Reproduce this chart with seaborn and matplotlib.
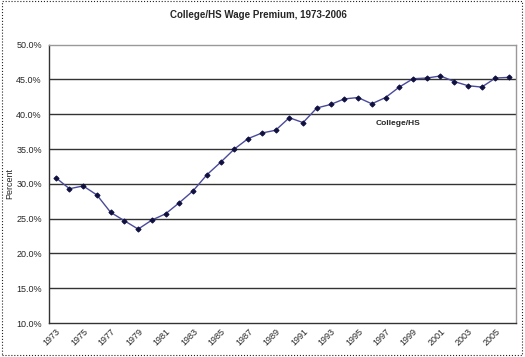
import numpy as np
import pandas as pd
import matplotlib
matplotlib.use('Agg')
import matplotlib.pyplot as plt
import seaborn as sns
from matplotlib.ticker import FixedLocator, FuncFormatter
from matplotlib.patches import Rectangle

years = list(range(1973, 2007))
premium = [30.9, 29.3, 29.7, 28.4, 25.9, 24.7, 23.5, 24.8, 25.7, 27.3,
           29.0, 31.3, 33.1, 35.0, 36.5, 37.3, 37.7, 39.5, 38.8, 40.9,
           41.4, 42.2, 42.4, 41.5, 42.4, 43.9, 45.1, 45.2, 45.5, 44.7,
           44.1, 43.9, 45.2, 45.3]
y_ticks = [10, 15, 20, 25, 30, 35, 40, 45, 50]
label_years = list(range(1973, 2006, 2))

df = pd.DataFrame({'year': years, 'premium': premium})

sns.set_style('white')
plt.rcParams['font.family'] = ['Liberation Sans', 'DejaVu Sans']

fig = plt.figure(figsize=(5.25, 3.57), dpi=100)
ax = fig.add_axes([0.093, 0.095, 0.890, 0.780])

sns.lineplot(data=df, x='year', y='premium', ax=ax, color='#4a4a9c', lw=1.0,
             marker='D', markersize=2.6, markerfacecolor='#101040',
             markeredgecolor='#101040')

ax.set_xlim(years[0] - 0.5, years[-1] + 0.5)
ax.set_ylim(10, 50)
ax.set_yticks(y_ticks)
ax.yaxis.set_major_formatter(FuncFormatter(lambda v, p: f'{v:.1f}%'))
for v in y_ticks[1:-1]:
    ax.axhline(v, color='#333333', lw=1.0, zorder=0)

ax.set_xticks(label_years)
ax.set_xticklabels([str(y) for y in label_years], rotation=45,
                   ha='right', va='top', rotation_mode='anchor', fontsize=6.5)
ax.tick_params(axis='x', length=0, pad=3)
ax.xaxis.set_minor_locator(FixedLocator(np.arange(years[0] - 0.5, years[-1] + 1, 1)))
ax.tick_params(axis='x', which='minor', length=3, width=0.8, color='#333333', direction='out')
ax.tick_params(axis='y', length=3, width=0.8, color='#333333', direction='out', labelsize=6.5, pad=2)

for side in ['left', 'bottom']:
    ax.spines[side].set_color('#333333')
    ax.spines[side].set_linewidth(1.0)
for side in ['top', 'right']:
    ax.spines[side].set_color('#999999')
    ax.spines[side].set_linewidth(1.0)

ax.set_xlabel('')
ax.set_ylabel('Percent', fontsize=6.5)
ax.yaxis.set_label_coords(-0.074, 0.5)
ax.text(1997.9, 38.6, 'College/HS', fontsize=6, fontweight='bold', ha='center', va='center')
fig.text(0.492, 0.957, 'College/HS Wage Premium, 1973-2006', fontsize=7,
         fontweight='bold', ha='center', va='center')

fig.patches.append(Rectangle((0.003, 0.006), 0.992, 0.99, transform=fig.transFigure,
                             fill=False, ls=':', lw=0.8, edgecolor='#222222'))

fig.savefig('out.png', dpi=100)
